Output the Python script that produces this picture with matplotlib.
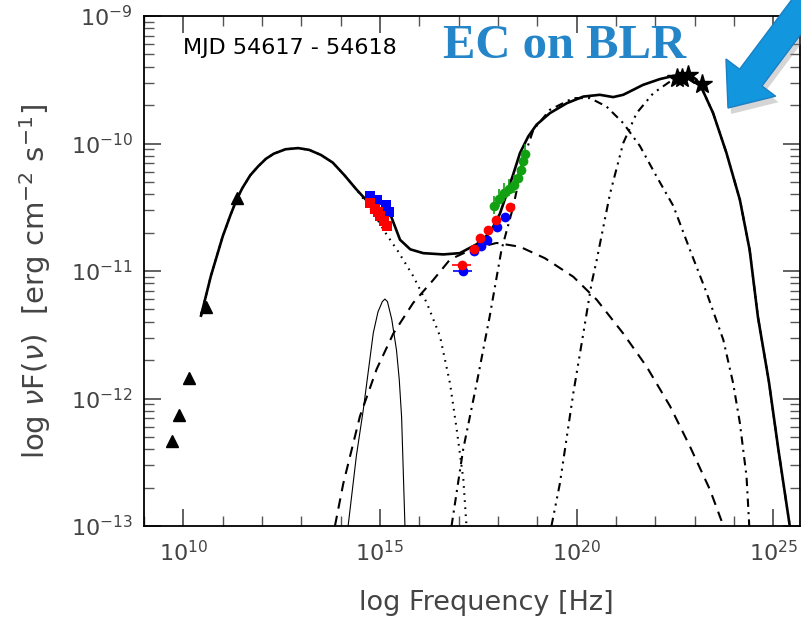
import numpy as np
import matplotlib
matplotlib.use("Agg")
from matplotlib import pyplot as plt
from matplotlib.patches import Polygon
from matplotlib.transforms import IdentityTransform

# ---- model curves (log10 nu, log10 nuFnu) ----
total_lx = [10.45, 10.7, 11.0, 11.2, 11.355, 11.5, 11.7, 11.9, 12.1, 12.3, 12.6, 12.92, 13.2,
            13.5, 13.8, 14.1, 14.4, 14.7, 15.01, 15.25, 15.38, 15.51, 15.77, 16.10, 16.61,
            17.03, 17.46, 17.80, 18.05, 18.25, 18.39, 18.56, 18.77, 18.98, 19.32, 19.75, 20.17,
            20.59, 20.93, 21.185, 21.355, 21.69, 22.115, 22.46, 22.88, 23.05, 23.22, 23.47,
            23.81, 24.15, 24.40, 24.61, 24.89, 25.13, 25.42]
total_ly = [-11.35, -11.04, -10.73, -10.56, -10.44, -10.35, -10.25, -10.18, -10.12, -10.08,
            -10.045, -10.036, -10.05, -10.09, -10.15, -10.25, -10.36, -10.46, -10.51, -10.545,
            -10.65, -10.755, -10.83, -10.86, -10.87, -10.86, -10.79, -10.70, -10.55, -10.37,
            -10.24, -10.075, -9.945, -9.853, -9.762, -9.684, -9.632, -9.618, -9.636, -9.618,
            -9.592, -9.54, -9.495, -9.47, -9.46, -9.50, -9.592, -9.761, -10.074, -10.44,
            -10.835, -11.36, -11.87, -12.40, -13.0]

sync_lx = [10.45, 10.7, 11.0, 11.2, 11.355, 11.5, 11.7, 11.9, 12.1, 12.3, 12.6, 12.92, 13.2,
           13.5, 13.8, 14.1, 14.4, 14.66, 14.9, 15.17, 15.46, 15.845, 16.19, 16.525, 16.78,
           16.95, 17.12, 17.20]
sync_ly = [-11.35, -11.04, -10.73, -10.56, -10.44, -10.35, -10.25, -10.18, -10.12, -10.08,
           -10.045, -10.036, -10.05, -10.09, -10.15, -10.25, -10.36, -10.467, -10.58, -10.715,
           -10.846, -11.04, -11.25, -11.51, -11.88, -12.24, -12.635, -13.0]

disk_lx = [14.19, 14.4, 14.575, 14.83, 14.95, 15.06, 15.125, 15.19, 15.3, 15.42, 15.49, 15.55,
           15.635]
disk_ly = [-13.0, -12.45, -12.09, -11.486, -11.32, -11.24, -11.22, -11.24, -11.38, -11.62,
           -11.85, -12.145, -13.0]

ssc_lx = [13.855, 14.065, 14.49, 14.915, 15.34, 15.845, 16.355, 16.78, 17.37, 17.965, 18.56,
          19.195, 19.915, 20.51, 21.185, 21.78, 22.375, 22.88, 23.39, 23.685]
ssc_ly = [-13.0, -12.67, -12.14, -11.77, -11.49, -11.25, -11.07, -10.91, -10.825, -10.78,
          -10.81, -10.90, -11.045, -11.225, -11.49, -11.75, -12.06, -12.375, -12.715, -12.96]

ecd_lx = [16.82, 17.115, 17.46, 17.79, 18.09, 18.39, 18.64, 18.90, 19.32, 19.91, 20.34, 20.76,
          21.185, 21.61, 22.03, 22.46, 22.88, 23.305, 23.73, 23.98, 24.15, 24.32, 24.39]
ecd_ly = [-13.0, -12.40, -11.88, -11.356, -10.833, -10.494, -10.128, -9.893, -9.736, -9.644,
          -9.644, -9.71, -9.84, -10.02, -10.257, -10.49, -10.833, -11.17, -11.54, -11.88,
          -12.19, -12.61, -13.0]

blr_lx = [19.36, 19.575, 19.915, 20.17, 20.38, 20.51, 20.85, 21.185, 21.525, 21.95, 22.375,
          22.63, 22.88, 23.05, 23.22, 23.47, 23.81, 24.15, 24.40, 24.61, 24.89, 25.13, 25.42]
blr_ly = [-13.0, -12.666, -11.96, -11.49, -11.098, -10.915, -10.393, -9.997, -9.762, -9.605,
          -9.514, -9.488, -9.475, -9.51, -9.592, -9.761, -10.074, -10.44, -10.835, -11.36,
          -11.87, -12.40, -13.0]

# ---- data points ----
radio_lx = [9.70, 9.90, 10.15, 10.575, 11.355]
radio_ly = [-12.33, -12.13, -11.84, -11.28, -10.43]

uv_blue_lx = [14.75, 14.92, 15.15, 15.22]
uv_blue_ly = [-10.41, -10.44, -10.48, -10.535]
uv_red_lx = [14.75, 14.88, 14.95, 15.0, 15.1, 15.18]
uv_red_ly = [-10.47, -10.51, -10.54, -10.565, -10.61, -10.65]

xrt_red_lx = [17.075, 17.39, 17.54, 17.745, 17.95, 18.30]
xrt_red_ly = [-10.95, -10.83, -10.74, -10.68, -10.60, -10.50]
xrt_blue_lx = [17.10, 17.38, 17.56, 17.72, 17.97, 18.175]
xrt_blue_ly = [-11.0, -10.84, -10.80, -10.755, -10.655, -10.58]
xrt_xerr = [0.25, 0.0, 0.0, 0.0, 0.0, 0.0]

hx_lx = [17.89, 18.02, 18.15, 18.28, 18.41, 18.51, 18.585, 18.635, 18.685]
hx_ly = [-10.49, -10.435, -10.39, -10.355, -10.325, -10.27, -10.205, -10.14, -10.08]

lat_lx = [22.545, 22.68, 22.84, 23.18]
lat_ly = [-9.49, -9.49, -9.46, -9.537]


def p(v):
    return 10.0 ** np.asarray(v)


W, H = 801, 621
fig = plt.figure(figsize=(W / 100, H / 100), dpi=100)
ax = fig.add_axes([144 / W, 1 - 526 / H, 656 / W, 510 / H])

ax.plot(p(sync_lx), p(sync_ly), color="black", lw=1.5, ls=(0, (0.8, 2.6)))
ax.plot(p(disk_lx), p(disk_ly), color="black", lw=0.8)
ax.plot(p(ssc_lx), p(ssc_ly), color="black", lw=1.5, ls=(0, (5, 3.5)))
ax.plot(p(ecd_lx), p(ecd_ly), color="black", lw=1.5, ls=(0, (4, 2.5, 1, 2.5)))
ax.plot(p(blr_lx), p(blr_ly), color="black", lw=1.5,
        ls=(0, (4, 2.5, 1, 2.5, 1, 2.5, 1, 2.5)))
ax.plot(p(total_lx), p(total_ly), color="black", lw=1.9)

ax.plot(p(radio_lx), p(radio_ly), "^", color="black", ms=9, mec="black")
ax.plot(p(uv_blue_lx), p(uv_blue_ly), "s", color="blue", ms=7, mew=0)
ax.plot(p(uv_red_lx), p(uv_red_ly), "s", color="red", ms=7, mew=0)

xr = np.asarray(xrt_xerr)
ax.errorbar(p(xrt_blue_lx), p(xrt_blue_ly),
            xerr=[p(xrt_blue_lx) - p(np.asarray(xrt_blue_lx) - xr),
                  p(np.asarray(xrt_blue_lx) + xr) - p(xrt_blue_lx)],
            fmt="o", color="blue", ms=7, mew=0, elinewidth=1.2, capsize=0)
ax.errorbar(p(xrt_red_lx), p(xrt_red_ly),
            xerr=[p(xrt_red_lx) - p(np.asarray(xrt_red_lx) - xr),
                  p(np.asarray(xrt_red_lx) + xr) - p(xrt_red_lx)],
            fmt="o", color="red", ms=7, mew=0, elinewidth=1.2, capsize=0)
hy = np.asarray(hx_ly)
ax.errorbar(p(hx_lx), p(hy),
            yerr=[p(hy) - p(hy - 0.06), p(hy + 0.08) - p(hy)],
            fmt="o", color="#11a011", ms=7, mew=0, elinewidth=1.2, capsize=0)
ax.plot(p(lat_lx), p(lat_ly), "*", color="black", ms=15)

ax.set_xscale("log")
ax.set_yscale("log")
ax.set_xlim(1e9, 10 ** 25.68)
ax.set_ylim(1e-13, 1e-9)

ax.xaxis.set_major_locator(matplotlib.ticker.FixedLocator([1e10, 1e15, 1e20, 1e25]))
ax.xaxis.set_minor_locator(matplotlib.ticker.FixedLocator(p(np.arange(9, 26))))
ax.xaxis.set_minor_formatter(matplotlib.ticker.NullFormatter())
ax.yaxis.set_minor_formatter(matplotlib.ticker.NullFormatter())
ax.tick_params(which="both", direction="in", top=True, right=True, color="#555555",
               labelcolor="#444444", labelsize=16)
ax.tick_params(which="major", length=12, width=1.3)
ax.tick_params(which="minor", length=7, width=1.0)
ax.tick_params(axis="x", pad=10)
ax.tick_params(axis="y", pad=8)
for s in ax.spines.values():
    s.set_linewidth(1.3)

fig.text(486 / W, 1 - 603 / H, "log Frequency [Hz]", ha="center", va="center",
         fontsize=19.5, color="#444444")
fig.text(35 / W, 1 - 281 / H, r"log $\nu$F($\nu$)  [erg cm$^{-2}$ s$^{-1}$]",
         rotation=90, ha="center", va="center", fontsize=21, color="#444444")
fig.text(183 / W, 1 - 48 / H, "MJD 54617 - 54618", ha="left", va="center", fontsize=16,
         color="black")
fig.text(565 / W, 1 - 46 / H, "EC on BLR", ha="center", va="center", fontsize=35,
         fontweight="bold", family="Liberation Serif", color="#2486c8")

# blue arrow pointing at the gamma-ray peak (pixel geometry, y from top)
tip = np.array([728.0, 108.0])
d = np.array([0.6, -0.8])
n = np.array([0.8, 0.6])
base = tip + 38 * d
tail = tip + 260 * d
pts = [tip, base + 31 * n, base + 14 * n, tail + 14 * n, tail - 14 * n, base - 14 * n,
       base - 31 * n]
pts = np.array([[x, H - y] for x, y in pts])
shadow = Polygon(pts + np.array([3, -6]), closed=True, transform=IdentityTransform(),
                 fc="#888888", ec="none", alpha=0.35, zorder=9)
arrow = Polygon(pts, closed=True, transform=IdentityTransform(), fc="#1296de",
                ec="#1a7fc4", lw=1, zorder=10)
fig.patches.extend([shadow, arrow])

fig.savefig("out.png", dpi=100)
